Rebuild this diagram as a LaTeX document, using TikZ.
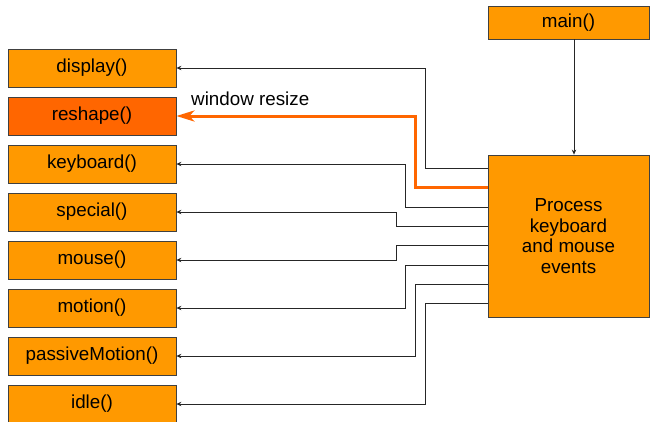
\documentclass[tikz,border=0pt]{standalone}
\usepackage{fontspec}
\setmainfont{Liberation Sans}
\usepackage{xcolor}
\usepackage{tikz}
\usetikzlibrary{arrows.meta,positioning}

\definecolor{boxorange}{HTML}{FF9900}
\definecolor{hotorange}{HTML}{FF6600}

\begin{document}
\begin{tikzpicture}[x=1pt, y=-1pt, node distance=9.2pt,
    every node/.style={font=\fontsize{18.8}{20.7}\selectfont},
    func/.style={draw=black!75, line width=0.8pt, fill=boxorange, minimum width=168pt, minimum height=38pt, inner sep=0pt},
    call/.style={black!85, line width=0.9pt, {Stealth[length=5pt,width=4.5pt]}-},
    hot/.style={hotorange, line width=3pt, {Stealth[length=18pt,width=11pt,inset=5pt]}-}]
    \useasboundingbox (0,0) rectangle (650,421);

    % Callback functions
    \node[func] (display) at (92,68) {display()};
    \node[func, fill=hotorange, below=of display] (reshape) {reshape()};
    \node[func, below=of reshape] (keyboard) {keyboard()};
    \node[func, below=of keyboard] (special) {special()};
    \node[func, below=of special] (mouse) {mouse()};
    \node[func, below=of mouse] (motion) {motion()};
    \node[func, below=of motion] (passiveMotion) {passiveMotion()};
    \node[func, below=of passiveMotion] (idle) {idle()};

    % Main loop
    \node[func, minimum width=161pt, minimum height=33pt] (main) at (568.5,22.5) {main()};
    \node[func, minimum width=161pt, minimum height=162pt, align=center] (proc) at (568.5,236) {Process\\keyboard\\and mouse\\events};
    \draw[black!85, line width=0.9pt, -{Stealth[length=5pt,width=4.5pt]}] ([xshift=5.5pt]main.south) -- ([xshift=5.5pt]proc.north);

    % Dispatch to callbacks
    \foreach \fn/\ey/\dx in {display/14/62, keyboard/52.6/82, special/71.9/91, mouse/91.2/91, motion/110.5/82, passiveMotion/129.8/72, idle/149.1/62} {
        \coordinate (ex) at ([yshift=-\ey pt]proc.north west);
        \draw[call] (\fn.east) -| ([xshift=-\dx pt]ex) -- (ex);
    }
    \coordinate (exr) at ([yshift=-33.3pt]proc.north west);
    \draw[hot] (reshape.east) -| ([xshift=-72pt]exr) -- (exr);
    \node[anchor=west, inner sep=0pt] (resize) at (191,98.5) {window resize};
\end{tikzpicture}
\end{document}
